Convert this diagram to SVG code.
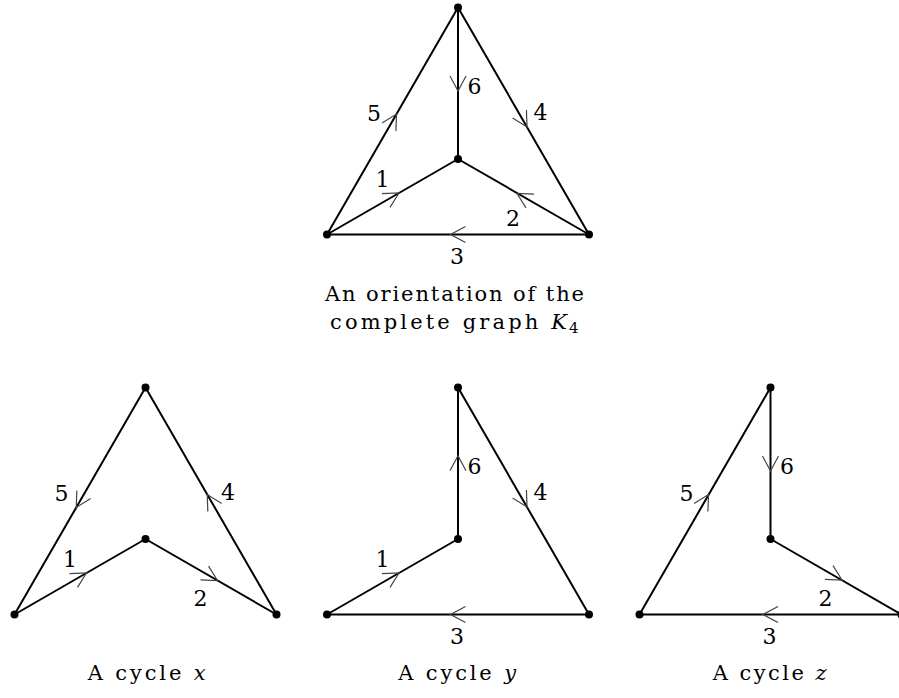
<svg xmlns="http://www.w3.org/2000/svg" xmlns:xlink="http://www.w3.org/1999/xlink" width="899" height="698" viewBox="0 0 899 698">
<style>
.edge{stroke:#000;stroke-width:2;fill:none;stroke-linecap:round}
.v{fill:#000}
.chev{stroke:#444;stroke-width:1.2;fill:none}
text{font-family:'DejaVu Serif','Liberation Serif',serif;fill:#000}
.lbl{font-size:22px;text-anchor:middle}
.cap{font-size:21px}
.sub{font-size:15px}
.it{font-style:italic}
</style>
<defs>
<path id="chev" class="chev" d="M-15,-8 L0,0 L-15,8"/>
</defs>
<rect width="899" height="698" fill="#fff"/>

<g id="connectors">
  <g id="edges-k4">
    <line class="edge" x1="458" y1="7.5" x2="458" y2="159"/>
    <line class="edge" x1="327" y1="234.5" x2="589" y2="234.5"/>
    <line class="edge" x1="327" y1="234.5" x2="458" y2="7.5"/>
    <line class="edge" x1="458" y1="7.5" x2="589" y2="234.5"/>
    <line class="edge" x1="327" y1="234.5" x2="458" y2="159"/>
    <line class="edge" x1="589" y1="234.5" x2="458" y2="159"/>
    <use xlink:href="#chev" transform="translate(458,91) rotate(90)"/>
    <use xlink:href="#chev" transform="translate(450.5,234.5) rotate(180)"/>
    <use xlink:href="#chev" transform="translate(396.5,114) rotate(-60)"/>
    <use xlink:href="#chev" transform="translate(527,127) rotate(60)"/>
    <use xlink:href="#chev" transform="translate(399,193) rotate(-30)"/>
    <use xlink:href="#chev" transform="translate(517,193.5) rotate(-150)"/>
  </g>
  <g id="edges-x">
    <line class="edge" x1="145.5" y1="387.5" x2="14.5" y2="614.5"/>
    <line class="edge" x1="145.5" y1="387.5" x2="276.5" y2="614.5"/>
    <line class="edge" x1="14.5" y1="614.5" x2="145.5" y2="539"/>
    <line class="edge" x1="145.5" y1="539" x2="276.5" y2="614.5"/>
    <use xlink:href="#chev" transform="translate(76.25,507.5) rotate(120)"/>
    <use xlink:href="#chev" transform="translate(207.25,494.5) rotate(-120)"/>
    <use xlink:href="#chev" transform="translate(86.5,573) rotate(-30)"/>
    <use xlink:href="#chev" transform="translate(217.5,580.5) rotate(30)"/>
  </g>
  <g id="edges-y">
    <line class="edge" x1="458" y1="387.5" x2="458" y2="539"/>
    <line class="edge" x1="458" y1="387.5" x2="589" y2="614.5"/>
    <line class="edge" x1="327" y1="614.5" x2="458" y2="539"/>
    <line class="edge" x1="327" y1="614.5" x2="589" y2="614.5"/>
    <use xlink:href="#chev" transform="translate(458,455.75) rotate(-90)"/>
    <use xlink:href="#chev" transform="translate(527,507) rotate(60)"/>
    <use xlink:href="#chev" transform="translate(399,573) rotate(-30)"/>
    <use xlink:href="#chev" transform="translate(450.5,614.5) rotate(180)"/>
  </g>
  <g id="edges-z">
    <line class="edge" x1="639.5" y1="614.5" x2="770.5" y2="387.5"/>
    <line class="edge" x1="770.5" y1="387.5" x2="770.5" y2="539"/>
    <line class="edge" x1="770.5" y1="539" x2="901.5" y2="614.5"/>
    <line class="edge" x1="639.5" y1="614.5" x2="901.5" y2="614.5"/>
    <use xlink:href="#chev" transform="translate(708.5,494.5) rotate(-60)"/>
    <use xlink:href="#chev" transform="translate(770.5,471) rotate(90)"/>
    <use xlink:href="#chev" transform="translate(842,580) rotate(30)"/>
    <use xlink:href="#chev" transform="translate(763,614.5) rotate(180)"/>
  </g>
</g>

<g id="k4-top"><circle class="v" cx="458" cy="7.5" r="4"/></g>
<g id="k4-center"><circle class="v" cx="458" cy="159" r="4"/></g>
<g id="k4-left"><circle class="v" cx="327" cy="234.5" r="4"/></g>
<g id="k4-right"><circle class="v" cx="589" cy="234.5" r="4"/></g>
<g id="x-top"><circle class="v" cx="145.5" cy="387.5" r="4"/></g>
<g id="x-center"><circle class="v" cx="145.5" cy="539" r="4"/></g>
<g id="x-left"><circle class="v" cx="14.5" cy="614.5" r="4"/></g>
<g id="x-right"><circle class="v" cx="276.5" cy="614.5" r="4"/></g>
<g id="y-top"><circle class="v" cx="458" cy="387.5" r="4"/></g>
<g id="y-center"><circle class="v" cx="458" cy="539" r="4"/></g>
<g id="y-left"><circle class="v" cx="327" cy="614.5" r="4"/></g>
<g id="y-right"><circle class="v" cx="589" cy="614.5" r="4"/></g>
<g id="z-top"><circle class="v" cx="770.5" cy="387.5" r="4"/></g>
<g id="z-center"><circle class="v" cx="770.5" cy="539" r="4"/></g>
<g id="z-left"><circle class="v" cx="639.5" cy="614.5" r="4"/></g>
<g id="z-right"><circle class="v" cx="901.5" cy="614.5" r="4"/></g>

<g id="labels">
  <text class="lbl" x="474.5" y="93.5">6</text>
  <text class="lbl" x="374" y="120.5">5</text>
  <text class="lbl" x="540.5" y="120">4</text>
  <text class="lbl" x="382.5" y="187">1</text>
  <text class="lbl" x="513" y="226">2</text>
  <text class="lbl" x="457" y="264">3</text>

  <text class="lbl" x="61.5" y="500.5">5</text>
  <text class="lbl" x="228" y="500">4</text>
  <text class="lbl" x="70" y="567">1</text>
  <text class="lbl" x="200.5" y="606">2</text>

  <text class="lbl" x="474.5" y="473.5">6</text>
  <text class="lbl" x="540.5" y="500">4</text>
  <text class="lbl" x="382.5" y="567">1</text>
  <text class="lbl" x="457" y="644">3</text>

  <text class="lbl" x="686.5" y="500.5">5</text>
  <text class="lbl" x="787" y="473.5">6</text>
  <text class="lbl" x="825.5" y="606">2</text>
  <text class="lbl" x="769.5" y="644">3</text>
</g>

<g id="captions">
  <text class="cap" x="325" y="300.5" textLength="259" lengthAdjust="spacing">An orientation of the</text>
  <text class="cap" x="330" y="329" textLength="237" lengthAdjust="spacing">complete graph <tspan class="it">K</tspan></text>
  <text class="sub" x="569" y="333">4</text>
  <text class="cap" x="87.7" y="680" textLength="118" lengthAdjust="spacing">A cycle <tspan class="it">x</tspan></text>
  <text class="cap" x="398.3" y="680" textLength="117.7" lengthAdjust="spacing">A cycle <tspan class="it">y</tspan></text>
  <text class="cap" x="712.7" y="680" textLength="114" lengthAdjust="spacing">A cycle <tspan class="it">z</tspan></text>
</g>
</svg>
